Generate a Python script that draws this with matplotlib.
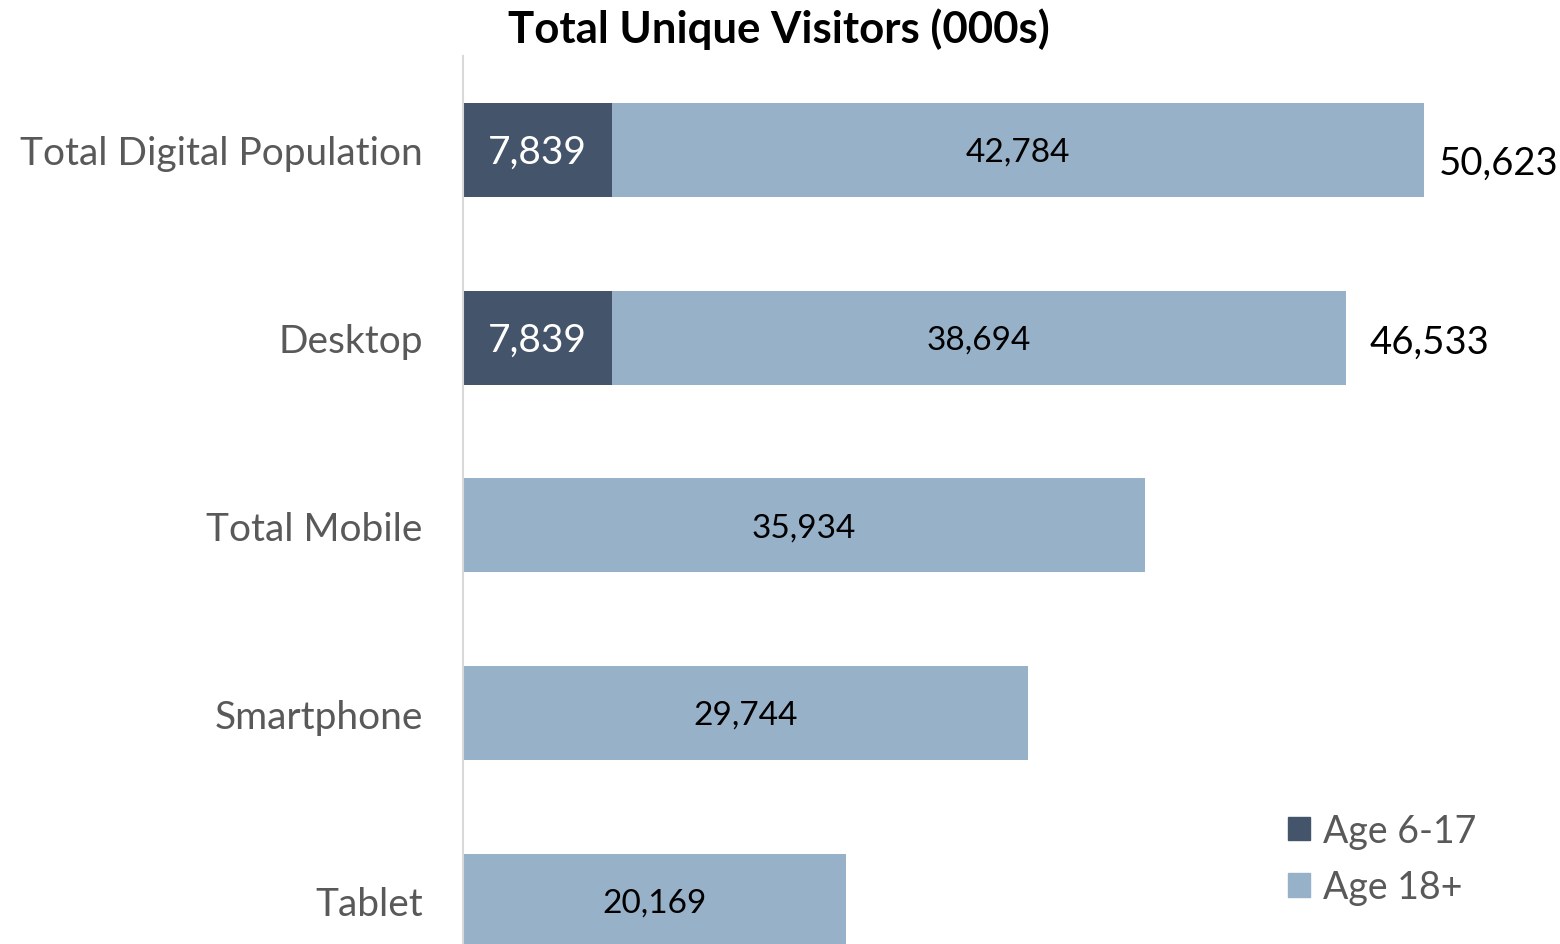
import matplotlib.pyplot as plt
from matplotlib.patches import Patch

plt.rcParams['font.family'] = ['Lato', 'DejaVu Sans']

categories = ['Total Digital Population', 'Desktop', 'Total Mobile', 'Smartphone', 'Tablet']
kids = [7839, 7839, 0, 0, 0]
adults = [42784, 38694, 35934, 29744, 20169]
totals = [50623, 46533, None, None, None]

dark = '#44546A'
light = '#97B1C9'
grey = '#595959'

fig = plt.figure(figsize=(15.6, 9.45), dpi=100)
ax = fig.add_axes([463 / 1560, 0, 1 - 463 / 1560, 1 - 57 / 945])

pos = list(range(len(categories)))
ax.barh(pos, kids, height=0.5, color=dark)
ax.barh(pos, adults, left=kids, height=0.5, color=light)

for i in pos:
    if kids[i]:
        ax.text(kids[i] / 2, i + 0.01, f'{kids[i]:,}', ha='center', va='center',
                color='white', fontsize=28)
    ax.text(kids[i] + adults[i] / 2, i + 0.01, f'{adults[i]:,}', ha='center', va='center',
            color='black', fontsize=24)

# totals sit right of the stacked bars; the widest one is nudged in and down to fit
ax.text(totals[0] + 800, 0.07, f'{totals[0]:,}', ha='left', va='center',
        color='black', fontsize=27.5)
ax.text(totals[1] + 1200, 1.02, f'{totals[1]:,}', ha='left', va='center',
        color='black', fontsize=27.5)

ax.set_xlim(0, 57780)
ax.set_ylim(4.23, -0.5)
ax.set_yticks(pos)
ax.set_yticklabels(categories, fontsize=28, color=grey)
ax.tick_params(axis='y', length=0, pad=29)
ax.set_xticks([])
for side in ['top', 'right', 'bottom']:
    ax.spines[side].set_visible(False)
ax.spines['left'].set_color('#D9D9D9')
ax.spines['left'].set_linewidth(1.5)

fig.text(779 / 1560, 1 - 29 / 945, 'Total Unique Visitors (000s)', ha='center', va='center',
         fontsize=31.5, fontweight='bold', color='black')

handles = [Patch(color=dark, label='Age 6-17'), Patch(color=light, label='Age 18+')]
leg = fig.legend(handles=handles, loc='center left', bbox_to_anchor=(1254 / 1560, 1 - 860 / 945),
                 frameon=False, fontsize=27, handlelength=0.6, handleheight=0.6,
                 handletextpad=0.35, labelspacing=0.55)
for t in leg.get_texts():
    t.set_color(grey)

fig.savefig('out.png', dpi=100)
